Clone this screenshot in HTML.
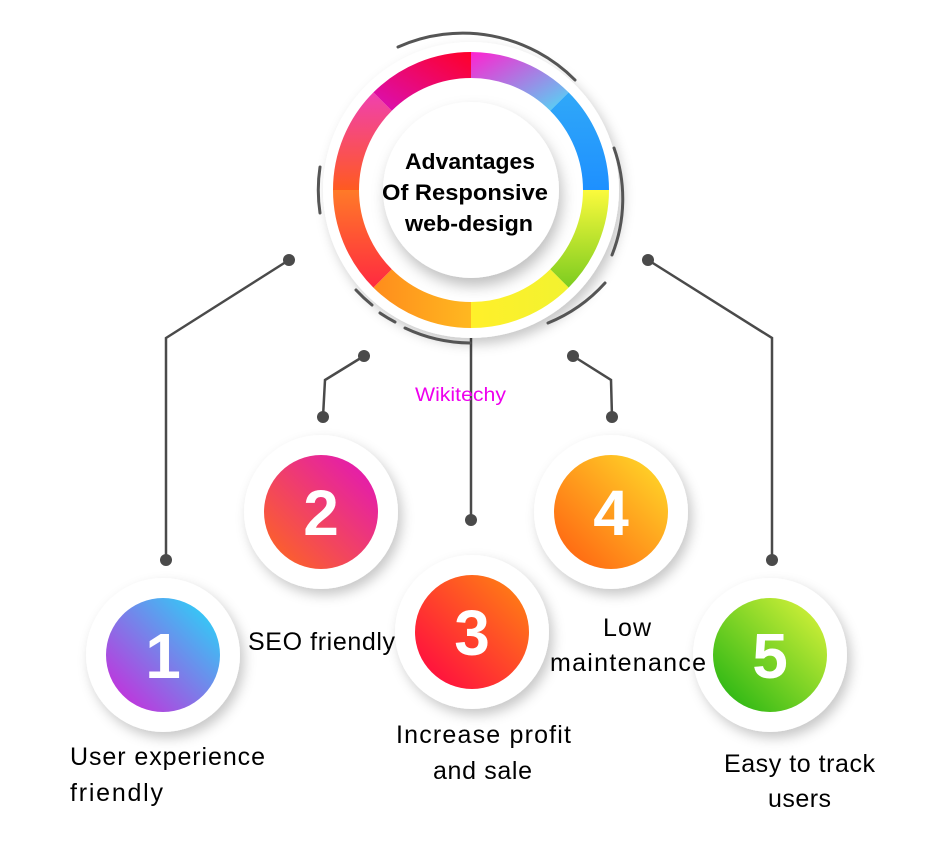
<!DOCTYPE html>
<html><head><meta charset="utf-8"><style>
html,body{margin:0;padding:0;background:#fff;}
svg{display:block;}
text{font-family:"Liberation Sans",sans-serif;}
</style></head><body>
<svg width="940" height="854" viewBox="0 0 940 854" xmlns="http://www.w3.org/2000/svg">
<defs>
<filter id="sh" x="-30%" y="-30%" width="160%" height="160%"><feDropShadow dx="4" dy="6" stdDeviation="6" flood-color="#000" flood-opacity="0.22"/></filter>
<filter id="sh2" x="-30%" y="-30%" width="160%" height="160%"><feDropShadow dx="3" dy="8" stdDeviation="7" flood-color="#000" flood-opacity="0.25"/></filter>
<linearGradient id="s1" x1="0" y1="0" x2="1" y2="1"><stop offset="0" stop-color="#ff22d0"/><stop offset="1" stop-color="#4ddcf6"/></linearGradient>
<linearGradient id="s2" x1="0" y1="0" x2="0" y2="1"><stop offset="0" stop-color="#30a8f8"/><stop offset="1" stop-color="#1e90ff"/></linearGradient>
<linearGradient id="s3" x1="0" y1="0" x2="0" y2="1"><stop offset="0" stop-color="#fbfa3c"/><stop offset="1" stop-color="#7ccc20"/></linearGradient>
<linearGradient id="s4" x1="1" y1="0" x2="0" y2="0"><stop offset="0" stop-color="#f2f230"/><stop offset="1" stop-color="#fff02a"/></linearGradient>
<linearGradient id="s5" x1="1" y1="0" x2="0" y2="0"><stop offset="0" stop-color="#ffb820"/><stop offset="1" stop-color="#ff8c1c"/></linearGradient>
<linearGradient id="s6" x1="0" y1="0" x2="0" y2="1"><stop offset="0" stop-color="#ff7a28"/><stop offset="1" stop-color="#ff2a40"/></linearGradient>
<linearGradient id="s7" x1="0" y1="0" x2="0" y2="1"><stop offset="0" stop-color="#f040b0"/><stop offset="1" stop-color="#ff5a20"/></linearGradient>
<linearGradient id="s8" x1="0" y1="1" x2="1" y2="0"><stop offset="0" stop-color="#d810b8"/><stop offset="1" stop-color="#ff0028"/></linearGradient>
<linearGradient id="c1" x1="1" y1="0" x2="0" y2="1"><stop offset="0" stop-color="#1ee0fa"/><stop offset="1" stop-color="#d61ed8"/></linearGradient>
<linearGradient id="c2" x1="1" y1="0" x2="0" y2="1"><stop offset="0" stop-color="#e012c0"/><stop offset="1" stop-color="#ff6a18"/></linearGradient>
<linearGradient id="c3" x1="1" y1="0" x2="0" y2="1"><stop offset="0" stop-color="#ff8a10"/><stop offset="1" stop-color="#ff0044"/></linearGradient>
<linearGradient id="c4" x1="1" y1="0" x2="0" y2="1"><stop offset="0" stop-color="#ffe02a"/><stop offset="1" stop-color="#ff5a10"/></linearGradient>
<linearGradient id="c5" x1="1" y1="0" x2="0" y2="1"><stop offset="0" stop-color="#e2f63c"/><stop offset="1" stop-color="#18b010"/></linearGradient>
</defs>

<g stroke="#4a4a4a" stroke-width="2.5" fill="none">
<polyline points="289,260 166,338 166,560"/>
<polyline points="364,356 325,380 323,417"/>
<line x1="471" y1="330" x2="471" y2="520"/>
<polyline points="573,356 611,380 612,417"/>
<polyline points="648,260 772,338 772,560"/>
</g>
<g fill="#4a4a4a">
<circle cx="289" cy="260" r="6"/><circle cx="166" cy="560" r="6"/>
<circle cx="364" cy="356" r="6"/><circle cx="323" cy="417" r="6"/>
<circle cx="471" cy="520" r="6"/>
<circle cx="573" cy="356" r="6"/><circle cx="612" cy="417" r="6"/>
<circle cx="648" cy="260" r="6"/><circle cx="772" cy="560" r="6"/>
</g>

<circle cx="471" cy="190" r="148" fill="#fff" filter="url(#sh)"/>
<g fill="none" stroke="#555" stroke-width="3" stroke-linecap="round">
<path d="M398,47 A158,158 0 0 1 575,80"/>
<path d="M320,167 A155,155 0 0 0 320,213"/>
<path d="M614,148 A152,152 0 0 1 612,255"/>
<path d="M548,323 A155,155 0 0 0 605,283"/>
<path d="M356,290 A155,155 0 0 0 372,305"/>
<path d="M380,313 A155,155 0 0 0 395,322"/>
<path d="M405,328 A155,155 0 0 0 470,343"/>
</g>
<path d="M471,52 A138,138 0 0 1 568.6,92.4 L550.2,110.8 A112,112 0 0 0 471,78 Z" fill="url(#s1)"/>
<path d="M568.6,92.4 A138,138 0 0 1 609,190 L583,190 A112,112 0 0 0 550.2,110.8 Z" fill="url(#s2)"/>
<path d="M609,190 A138,138 0 0 1 568.6,287.6 L550.2,269.2 A112,112 0 0 0 583,190 Z" fill="url(#s3)"/>
<path d="M568.6,287.6 A138,138 0 0 1 471,328 L471,302 A112,112 0 0 0 550.2,269.2 Z" fill="url(#s4)"/>
<path d="M471,328 A138,138 0 0 1 373.4,287.6 L391.8,269.2 A112,112 0 0 0 471,302 Z" fill="url(#s5)"/>
<path d="M373.4,287.6 A138,138 0 0 1 333,190 L359,190 A112,112 0 0 0 391.8,269.2 Z" fill="url(#s6)"/>
<path d="M333,190 A138,138 0 0 1 373.4,92.4 L391.8,110.8 A112,112 0 0 0 359,190 Z" fill="url(#s7)"/>
<path d="M373.4,92.4 A138,138 0 0 1 471,52 L471,78 A112,112 0 0 0 391.8,110.8 Z" fill="url(#s8)"/>
<circle cx="471" cy="190" r="88" fill="#fff" filter="url(#sh2)"/>
<g font-size="22" font-weight="bold" fill="#000">
<text x="405" y="169" textLength="130" lengthAdjust="spacingAndGlyphs">Advantages</text>
<text x="382" y="200" textLength="166" lengthAdjust="spacingAndGlyphs">Of Responsive</text>
<text x="405" y="231" textLength="128" lengthAdjust="spacingAndGlyphs">web-design</text>
</g>
<text x="415" y="401" font-size="19" fill="#ee00ee" textLength="91" lengthAdjust="spacingAndGlyphs">Wikitechy</text>

<g>
<circle cx="163" cy="655" r="77" fill="#fff" filter="url(#sh)"/>
<circle cx="163" cy="655" r="57" fill="url(#c1)"/>
<circle cx="321" cy="512" r="77" fill="#fff" filter="url(#sh)"/>
<circle cx="321" cy="512" r="57" fill="url(#c2)"/>
<circle cx="472" cy="632" r="77" fill="#fff" filter="url(#sh)"/>
<circle cx="472" cy="632" r="57" fill="url(#c3)"/>
<circle cx="611" cy="512" r="77" fill="#fff" filter="url(#sh)"/>
<circle cx="611" cy="512" r="57" fill="url(#c4)"/>
<circle cx="770" cy="655" r="77" fill="#fff" filter="url(#sh)"/>
<circle cx="770" cy="655" r="57" fill="url(#c5)"/>
</g>
<g font-size="64" font-weight="bold" fill="#fff" text-anchor="middle">
<text x="163" y="678">1</text>
<text x="321" y="535">2</text>
<text x="472" y="655">3</text>
<text x="611" y="535">4</text>
<text x="770" y="678">5</text>
</g>

<g font-size="25" fill="#000" lengthAdjust="spacingAndGlyphs">
<text x="70" y="765" textLength="195">User experience</text>
<text x="70" y="801" textLength="93">friendly</text>
<text x="248" y="650" textLength="147">SEO friendly</text>
<text x="396" y="743" textLength="175">Increase profit</text>
<text x="433" y="779" textLength="99">and sale</text>
<text x="603" y="636" textLength="48">Low</text>
<text x="550" y="671" textLength="156">maintenance</text>
<text x="724" y="772" textLength="151">Easy to track</text>
<text x="768" y="807" textLength="63">users</text>
</g>
</svg>
</body></html>
